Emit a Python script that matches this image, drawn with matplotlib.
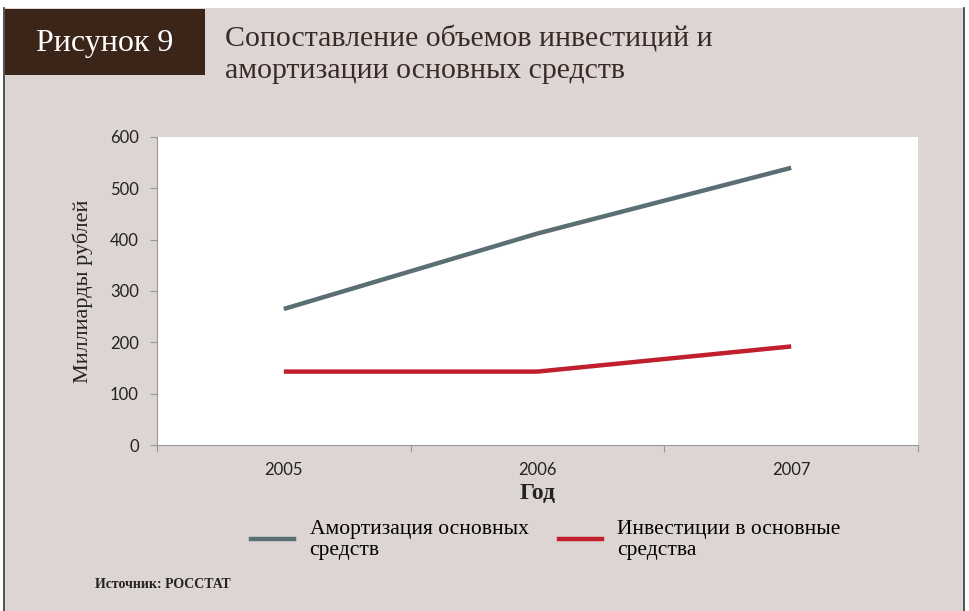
import numpy as np
import matplotlib.pyplot as plt
from matplotlib.patches import Rectangle
from matplotlib.lines import Line2D

years = ['2005', '2006', '2007']
amort = [265, 412, 540]
invest = [143, 143, 192]
yticks = [0, 100, 200, 300, 400, 500, 600]

bg = '#ddd5d3'
serif = 'Liberation Serif'
sans = 'Lato'

fig = plt.figure(figsize=(9.69, 6.11), dpi=100)
fig.patch.set_facecolor('white')

# background panel with dark borders
fig.add_artist(Rectangle((5/969, 0), 958/969, 1 - 8/611, transform=fig.transFigure,
                         facecolor=bg, edgecolor='none', zorder=0))
fig.add_artist(Line2D([4/969, 4/969], [0, 1 - 8/611], transform=fig.transFigure,
                      color='#333333', lw=1.2))
fig.add_artist(Line2D([964/969, 964/969], [0, 1 - 8/611], transform=fig.transFigure,
                      color='#333333', lw=1.2))

# brown label box
fig.add_artist(Rectangle((5/969, 1 - 75/611), 200/969, 66/611, transform=fig.transFigure,
                         facecolor='#3b2418', edgecolor='none', zorder=1))
fig.text(105/969, 1 - 44/611, 'Рисунок 9', color='white', family=serif, fontsize=23,
         ha='center', va='center')
fig.text(225/969, 1 - 55/611, 'Сопоставление объемов инвестиций и\nамортизации основных средств',
         color='#3a2a25', family=serif, fontsize=21.5, ha='left', va='center', linespacing=1.25)

ax = fig.add_axes([157/969, 1 - 445/611, 761/969, 308/611])
ax.set_facecolor('white')
x = np.arange(len(years))
ax.plot(x, amort, color='#5a6e73', lw=3.2, solid_capstyle='butt')
ax.plot(x, invest, color='#c01f2e', lw=3.2, solid_capstyle='butt')

ax.set_xlim(-0.5, 2.5)
ax.set_ylim(0, 600)
ax.set_yticks(yticks)
ax.set_yticklabels([str(v) for v in yticks], family=sans, fontsize=12, color='#222222')
ax.set_xticks([-0.5, 0.5, 1.5, 2.5])
ax.set_xticklabels([])
ax.set_xticks(x, minor=True)
ax.set_xticklabels(years, minor=True, family=sans, fontsize=12, color='#222222')
ax.tick_params(axis='x', which='minor', length=0, pad=12)
ax.tick_params(axis='x', which='major', length=5, color='#999999', direction='out')
ax.tick_params(axis='y', length=5, color='#999999', pad=8)
for s in ['top', 'right']:
    ax.spines[s].set_visible(False)
for s in ['left', 'bottom']:
    ax.spines[s].set_color('#999999')

ax.set_ylabel('Миллиарды рублей', family=serif, fontsize=16, color='#222222', labelpad=12)
ax.set_xlabel('Год', family=serif, fontsize=17, fontweight='bold', color='#222222', labelpad=4)

handles = [Line2D([], [], color='#5a6e73', lw=3.2), Line2D([], [], color='#c01f2e', lw=3.2)]
leg = fig.legend(handles, ['Амортизация основных\nсредств', 'Инвестиции в основные\nсредства'],
                 loc='center left', bbox_to_anchor=(232/969, 1 - 540/611), ncol=2,
                 frameon=False, handlelength=2.0, columnspacing=1.4, handletextpad=0.7,
                 labelspacing=0.2, prop={'family': serif, 'size': 15.5})

fig.text(95/969, 1 - 585/611, 'Источник: РОССТАТ', family=serif, fontsize=10,
         fontweight='bold', color='#222222', ha='left', va='center')

fig.savefig('out.png', dpi=100, facecolor=fig.get_facecolor())
